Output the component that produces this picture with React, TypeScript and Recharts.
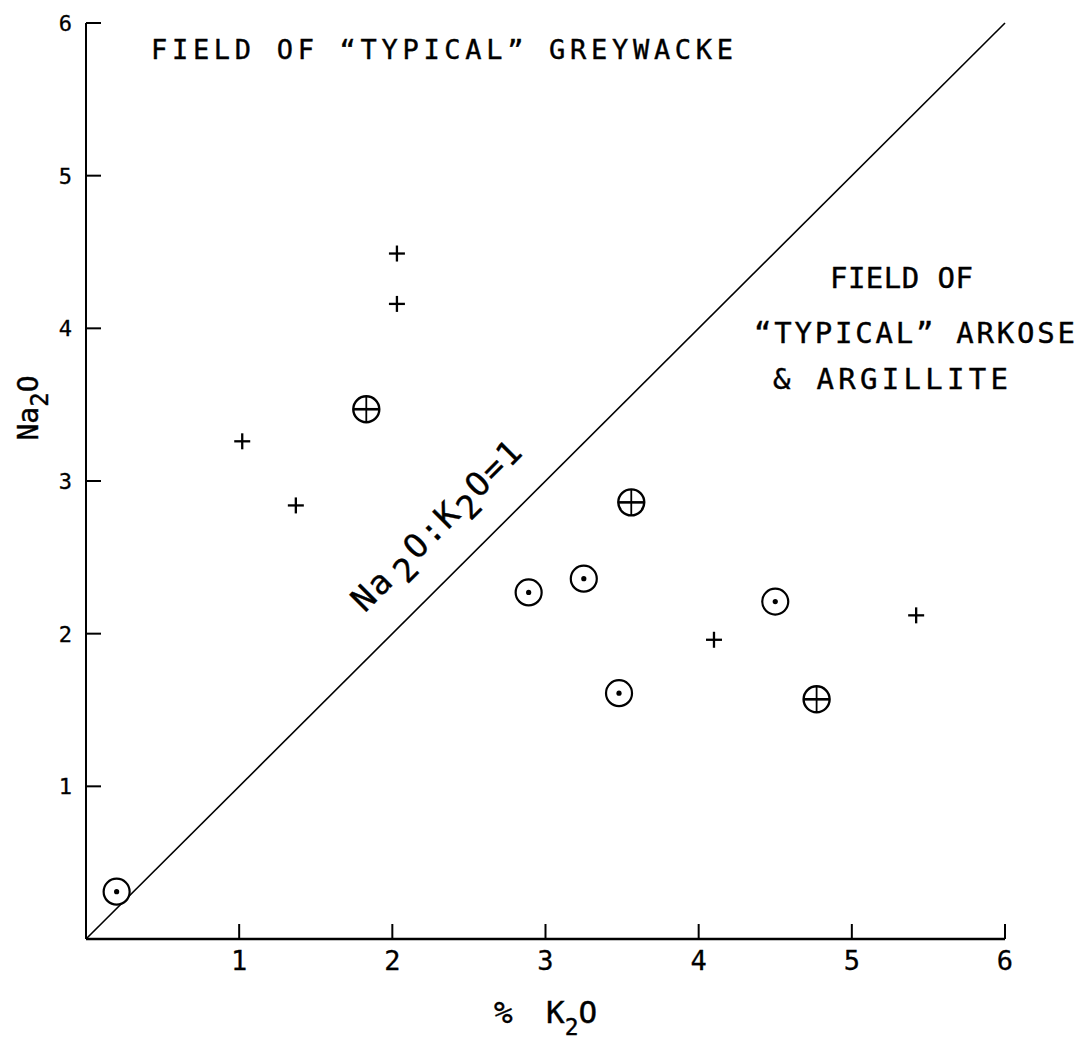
import { ScatterChart, Scatter, XAxis, YAxis, ReferenceLine, Customized } from "recharts";

// % K2O (x) and Na2O (y)
const PLUS_K2O = [2.03, 2.03, 1.02, 1.37, 4.1, 5.42];
const PLUS_NA2O = [4.49, 4.16, 3.26, 2.84, 1.96, 2.12];

const DOT_K2O = [0.2, 2.89, 3.25, 3.48, 4.5];
const DOT_NA2O = [0.31, 2.27, 2.36, 1.61, 2.21];

const CROSS_K2O = [1.83, 3.56, 4.77];
const CROSS_NA2O = [3.47, 2.86, 1.57];

const AXIS_TICKS = [1, 2, 3, 4, 5, 6];
const RATIO_LINE = [0, 6];

const FONT = "'DejaVu Sans Mono', monospace";

const toPoints = (xs: number[], ys: number[]) => xs.map((x, i) => ({ x, y: ys[i] }));

const plusData = toPoints(PLUS_K2O, PLUS_NA2O);
const dotData = toPoints(DOT_K2O, DOT_NA2O);
const crossData = toPoints(CROSS_K2O, CROSS_NA2O);

function PlusMark({ cx, cy }: any) {
  return (
    <g stroke="#000" strokeWidth={2.3}>
      <line x1={cx - 8} x2={cx + 8} y1={cy} y2={cy} />
      <line x1={cx} x2={cx} y1={cy - 8} y2={cy + 8} />
    </g>
  );
}

function DotMark({ cx, cy }: any) {
  return (
    <g>
      <circle cx={cx} cy={cy} r={13} fill="#fff" stroke="#000" strokeWidth={2.2} />
      <circle cx={cx} cy={cy} r={2.6} fill="#000" />
    </g>
  );
}

function CrossMark({ cx, cy }: any) {
  return (
    <g stroke="#000">
      <circle cx={cx} cy={cy} r={13} fill="#fff" strokeWidth={2.4} />
      <line x1={cx - 13} x2={cx + 13} y1={cy} y2={cy} strokeWidth={2.6} />
      <line x1={cx} x2={cx} y1={cy - 13} y2={cy + 13} strokeWidth={1.8} />
    </g>
  );
}

function XTick({ x, y, payload }: any) {
  return (
    <g>
      <line x1={x} x2={x} y1={y} y2={y - 15} stroke="#000" strokeWidth={2} />
      <text
        x={x}
        y={y + 31}
        textAnchor="middle"
        fontSize={27}
        fontFamily={FONT}
        fill="#000"
        stroke="#000"
        strokeWidth={0.3}
      >
        {payload.value}
      </text>
    </g>
  );
}

function YTick({ x, y, payload }: any) {
  return (
    <g>
      <line x1={x} x2={x + 15} y1={y} y2={y} stroke="#000" strokeWidth={2} />
      <text
        x={x - 14}
        y={y + 8}
        textAnchor="end"
        fontSize={22}
        fontFamily={FONT}
        fill="#000"
        stroke="#000"
        strokeWidth={0.3}
      >
        {payload.value}
      </text>
    </g>
  );
}

function Annotations() {
  return (
    <g fontFamily={FONT} fill="#000" stroke="#000" strokeWidth={0.4}>
      <text x={151} y={59} fontSize={27} textLength={582} lengthAdjust="spacing">
        FIELD OF “TYPICAL”  GREYWACKE
      </text>
      <text x={830} y={288} fontSize={29} textLength={143} lengthAdjust="spacing">
        FIELD OF
      </text>
      <text x={754} y={343} fontSize={29} textLength={321} lengthAdjust="spacing">
        “TYPICAL” ARKOSE
      </text>
      <text x={773} y={389} fontSize={29} textLength={235} lengthAdjust="spacing">
        &amp;  ARGILLITE
      </text>
      <text
        transform="translate(445 533) rotate(-45)"
        textAnchor="middle"
        fontSize={33}
        letterSpacing={2}
      >
        Na<tspan dx={6} dy={10}>2</tspan>
        <tspan dx={2} dy={-10}>O:K</tspan>
        <tspan dy={10}>2</tspan>
        <tspan dy={-10}>O=1</tspan>
      </text>
      <text transform="translate(38 408) rotate(-90)" textAnchor="middle" fontSize={28}>
        Na<tspan dy={10} fontSize={24}>2</tspan>
        <tspan dy={-10} fontSize={28}>O</tspan>
      </text>
      <text x={494} y={1023} fontSize={31}>%</text>
      <text x={546} y={1023} fontSize={31}>
        K<tspan dy={12} fontSize={23}>2</tspan>
        <tspan dy={-12} fontSize={31}>O</tspan>
      </text>
    </g>
  );
}

export default function App() {
  return (
    <div style={{ position: "absolute", left: 0, top: 0, background: "#fff" }}>
      <ScatterChart
        width={1086}
        height={1049}
        margin={{ top: 23, right: 81, bottom: 80, left: 26 }}
      >
        <XAxis
          type="number"
          dataKey="x"
          domain={[0, 6]}
          ticks={AXIS_TICKS}
          height={30}
          tickSize={0}
          tickMargin={0}
          tickLine={false}
          tick={<XTick />}
          axisLine={{ stroke: "#000", strokeWidth: 2.5 }}
          allowDataOverflow
        />
        <YAxis
          type="number"
          dataKey="y"
          domain={[0, 6]}
          ticks={AXIS_TICKS}
          width={60}
          tickSize={0}
          tickMargin={0}
          tickLine={false}
          tick={<YTick />}
          axisLine={{ stroke: "#000", strokeWidth: 2 }}
          allowDataOverflow
        />
        <ReferenceLine
          segment={[
            { x: RATIO_LINE[0], y: RATIO_LINE[0] },
            { x: RATIO_LINE[1], y: RATIO_LINE[1] },
          ]}
          stroke="#000"
          strokeWidth={1.6}
        />
        <Scatter data={plusData} shape={(p: any) => <PlusMark {...p} />} isAnimationActive={false} />
        <Scatter data={dotData} shape={(p: any) => <DotMark {...p} />} isAnimationActive={false} />
        <Scatter data={crossData} shape={(p: any) => <CrossMark {...p} />} isAnimationActive={false} />
        <Customized component={<Annotations />} />
      </ScatterChart>
    </div>
  );
}
